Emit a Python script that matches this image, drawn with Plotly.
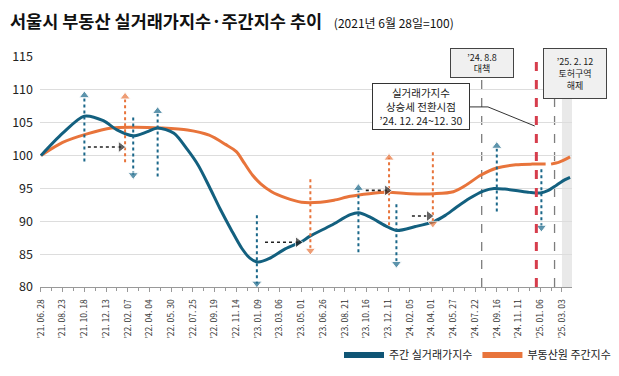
import plotly.graph_objects as go

# ---------------- data ----------------
blue_name = "주간 실거래가지수"
orange_name = "부동산원 주간지수"

blue_dates = ["2021-06-28", "2021-08-23", "2021-10-18", "2021-12-06", "2022-01-10", "2022-02-21",
              "2022-03-28", "2022-04-25", "2022-06-06", "2022-07-11", "2022-08-08", "2022-09-05",
              "2022-10-03", "2022-10-31", "2022-11-28", "2022-12-19", "2023-01-09", "2023-02-06",
              "2023-03-20", "2023-05-01", "2023-05-22", "2023-07-17", "2023-09-04", "2023-09-25",
              "2023-10-23", "2023-12-04", "2024-01-01", "2024-02-19", "2024-04-08", "2024-05-06",
              "2024-06-03", "2024-07-08", "2024-08-12", "2024-09-09", "2024-10-07", "2024-11-04",
              "2024-12-09", "2025-01-06", "2025-01-27", "2025-02-17", "2025-03-10", "2025-03-24"]
blue_values = [100.0, 103.4, 106.0, 105.3, 103.9, 103.0,
               103.6, 104.2, 103.4, 100.9, 98.5, 95.3,
               91.9, 88.8, 85.9, 84.4, 83.8, 84.3,
               85.8, 86.9, 87.7, 89.4, 91.0, 91.3,
               90.7, 89.3, 88.6, 89.2, 90.0, 90.9,
               92.1, 93.5, 94.6, 95.0, 94.9, 94.7,
               94.4, 94.3, 94.7, 95.5, 96.3, 96.7]

orange_dates = ["2021-06-28", "2021-08-23", "2021-10-25", "2021-12-27", "2022-02-28", "2022-05-02",
                "2022-07-11", "2022-09-05", "2022-10-17", "2022-11-14", "2022-12-05", "2022-12-26",
                "2023-01-16", "2023-02-13", "2023-03-20", "2023-05-01", "2023-06-19", "2023-07-24",
                "2023-09-04", "2023-10-23", "2023-12-11", "2024-02-05", "2024-04-08", "2024-05-27",
                "2024-07-01", "2024-08-05", "2024-09-16", "2024-11-04", "2024-12-16", "2025-01-20",
                "2025-01-27", "2025-02-03", "2025-02-24", "2025-03-24"]
orange_values = [100.0, 102.0, 103.3, 104.2, 104.3, 104.2,
                 103.9, 103.1, 101.7, 100.6, 98.8, 97.0,
                 95.7, 94.5, 93.6, 92.9, 92.9, 93.2,
                 93.8, 94.2, 94.4, 94.2, 94.2, 94.5,
                 95.6, 97.0, 98.1, 98.6, 98.7, 98.7,
                 None, 98.7, 99.0, 99.8]

tick_dates = ["2021-06-28", "2021-08-23", "2021-10-18", "2021-12-13", "2022-02-07", "2022-04-04",
              "2022-05-30", "2022-07-25", "2022-09-19", "2022-11-14", "2023-01-09", "2023-03-06",
              "2023-05-01", "2023-06-26", "2023-08-21", "2023-10-16", "2023-12-11", "2024-02-05",
              "2024-04-01", "2024-05-27", "2024-07-22", "2024-09-16", "2024-11-11", "2025-01-06",
              "2025-03-03"]
tick_labels = ["’%s. %s. %s" % (d[2:4], d[5:7], d[8:10]) for d in tick_dates]

# annotation arrows (date, from, to)
blue_arrows = [("2021-10-18", 99.1, 109.7), ("2022-02-21", 105.8, 96.5), ("2022-04-25", 96.8, 107.3),
               ("2023-01-06", 90.9, 80.0), ("2023-09-25", 85.3, 95.6), ("2024-01-01", 92.6, 83.0),
               ("2024-09-16", 91.5, 102.0), ("2025-01-09", 97.9, 88.5)]
orange_arrows = [("2022-01-31", 99.0, 109.5), ("2023-05-24", 96.4, 85.0),
                 ("2023-12-13", 89.4, 100.2), ("2024-04-04", 100.5, 89.1)]
black_arrows = [(101.3, "2021-10-27", "2022-01-20"), (86.8, "2023-01-27", "2023-04-22"),
                (94.7, "2023-10-14", "2023-12-08"), (90.8, "2024-02-10", "2024-03-25")]

event_aug = "2024-08-08"
event_turn = "2024-12-27"
event_feb = "2025-02-12"
shade_start = "2025-03-03"

# ---------------- style ----------------
BLUE = "#13607f"
ORANGE = "#e8743b"
BLACK = "#222222"
FONT = "Noto Sans CJK KR"
NARROW = "Liberation Sans Narrow, Noto Sans CJK KR"
X_RANGE = ["2021-06-25 12:00", "2025-03-29"]

fig = go.Figure()

fig.add_trace(go.Scatter(x=orange_dates, y=orange_values, mode="lines", line=dict(color=ORANGE, width=3, shape="spline", smoothing=0.8),
                         connectgaps=False, showlegend=False, hoverinfo="skip"))
fig.add_trace(go.Scatter(x=blue_dates, y=blue_values, mode="lines", line=dict(color=BLUE, width=3, shape="spline", smoothing=0.8),
                         showlegend=False, hoverinfo="skip"))

def v_arrow(d, y0, y1, color):
    up = y1 > y0
    off = 0.55 if up else -0.55
    fig.add_trace(go.Scatter(x=[d, d], y=[y0, y1 - off], mode="lines+markers",
                             line=dict(color=color, width=2, dash="dot"),
                             marker=dict(size=[0, 9], symbol="triangle-up" if up else "triangle-down", color=color),
                             showlegend=False, hoverinfo="skip"))

for d, a, b in blue_arrows:
    v_arrow(d, a, b, "#1a6789")
for d, a, b in orange_arrows:
    v_arrow(d, a, b, ORANGE)
for yv, d0, d1 in black_arrows:
    fig.add_trace(go.Scatter(x=[d0, d1], y=[yv, yv], mode="lines+markers",
                             line=dict(color=BLACK, width=1.6, dash="dot"),
                             marker=dict(size=[0, 10], symbol="triangle-right", color=BLACK),
                             showlegend=False, hoverinfo="skip"))

# legend entries
fig.add_trace(go.Scatter(x=[None], y=[None], mode="lines", line=dict(color="#0f5575", width=6), name=blue_name))
fig.add_trace(go.Scatter(x=[None], y=[None], mode="lines", line=dict(color=ORANGE, width=6), name=orange_name))

shapes = [
    dict(type="rect", xref="x", yref="paper", x0=shade_start, x1=X_RANGE[1], y0=0, y1=1,
         fillcolor="#e9e9e9", line=dict(width=0), layer="below"),
    dict(type="line", xref="x", yref="paper", x0=event_aug, x1=event_aug, y0=0, y1=0.9,
         line=dict(color="#7d7d7d", width=1.3, dash="dash"), layer="below"),
    dict(type="line", xref="x", yref="paper", x0=event_feb, x1=event_feb, y0=0, y1=0.85,
         line=dict(color="#7d7d7d", width=1.3, dash="dash"), layer="below"),
    dict(type="line", xref="x", yref="paper", x0=event_turn, x1=event_turn, y0=0, y1=1,
         line=dict(color="#d63d4c", width=3, dash="dash"), layer="above"),
    dict(type="path", xref="paper", yref="paper",
         path="M0.808,0.783 L0.842,0.783 L0.930,0.700", line=dict(color="#333333", width=1)),
]

annotations = [
    dict(xref="paper", yref="paper", x=0.716, y=0.785, xanchor="center", yanchor="middle",
         text="실거래가지수<br>상승세 전환시점<br>’24. 12. 24~12. 30",
         showarrow=False, font=dict(size=10.5, color="#1a1a1a", family=FONT), align="center",
         bgcolor="white", bordercolor="#333333", borderwidth=1, borderpad=2, width=92, height=41),
    dict(xref="x", yref="paper", x=event_aug, y=0.976, xanchor="center", yanchor="middle",
         text="’24. 8.8<br>대책",
         showarrow=False, font=dict(size=9, color="#1a1a1a", family=FONT), align="center",
         bgcolor="#f0f0f0", bordercolor="#444444", borderwidth=1, borderpad=2, width=58, height=24),
    dict(xref="paper", yref="paper", x=1.0047, y=0.930, xanchor="center", yanchor="middle",
         text="’25. 2. 12<br>토허구역<br>해제",
         showarrow=False, font=dict(size=9, color="#1a1a1a", family=FONT), align="center",
         bgcolor="#f0f0f0", bordercolor="#444444", borderwidth=1, borderpad=2, width=58, height=45),
]

fig.update_layout(
    width=619, height=376,
    margin=dict(l=40, r=47, t=57, b=89, autoexpand=False),
    paper_bgcolor="white", plot_bgcolor="white",
    font=dict(family=FONT, color="#222222"),
    title=dict(text="<b>서울시 부동산 실거래가지수·주간지수 추이</b>&nbsp;&nbsp;&nbsp;<span style='font-size:12px;font-weight:normal'>(2021년 6월 28일=100)</span>",
               x=10 / 619, xanchor="left", y=1 - 22 / 376, yanchor="middle",
               font=dict(size=17.5, color="#111111", family=FONT)),
    shapes=shapes, annotations=annotations,
    legend=dict(orientation="h", xref="container", yref="container", x=616 / 619, xanchor="right",
                y=1 - 355 / 376, yanchor="middle",
                font=dict(size=11, color="#222222", family=FONT), bgcolor="rgba(0,0,0,0)",
                itemwidth=40, tracegroupgap=0),
)

fig.update_yaxes(range=[80, 115], tickvals=[80, 85, 90, 95, 100, 105, 110, 115], showgrid=True,
                 gridcolor="#dddddd", gridwidth=1, zeroline=False, showline=False, ticks="",
                 tickfont=dict(size=12.5, color="#222222"), ticklabelstandoff=6)
fig.update_xaxes(type="date", range=X_RANGE, tickvals=tick_dates, ticktext=tick_labels, tickangle=-90,
                 tickfont=dict(size=8.5, color="#333333", family=NARROW), ticks="outside", ticklen=4,
                 tickcolor="#999999", showline=True, linecolor="#999999", linewidth=1, showgrid=False,
                 zeroline=False,
                 minor=dict(ticks="outside", ticklen=3, tickcolor="#999999", dtick=28 * 86400000,
                            tick0="2021-06-28", showgrid=False),
                 ticklabelstandoff=4)

fig.write_html("out.html", config={"displayModeBar": False},
               post_script="document.body.style.margin='0px';")
